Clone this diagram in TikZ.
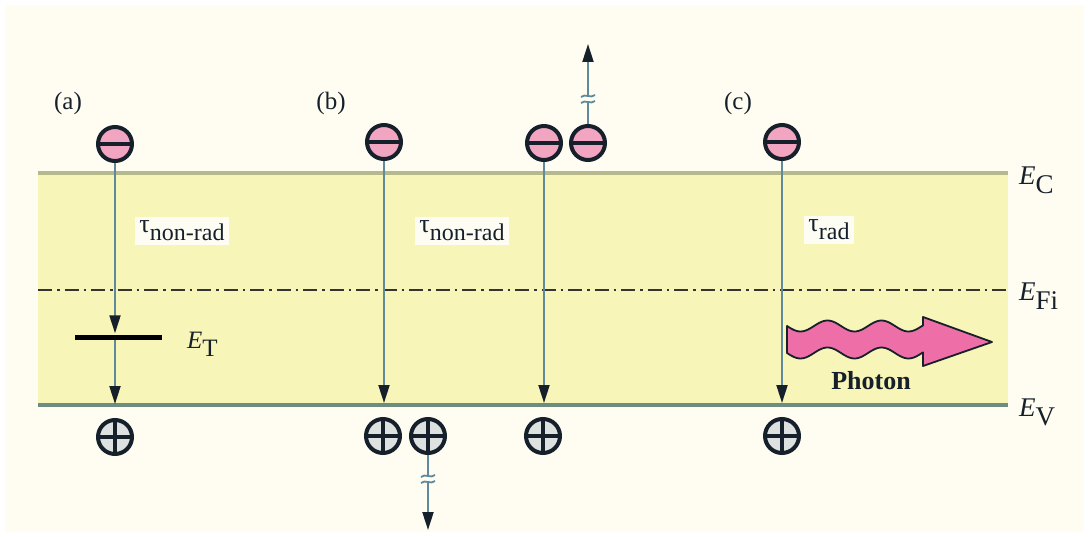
\documentclass[tikz,border=0pt]{standalone}
\usepackage{fontspec}
\setmainfont{Liberation Serif}
\usetikzlibrary{arrows.meta}
\definecolor{paper}{HTML}{FFFDF2}
\definecolor{bandfill}{HTML}{F8F5B8}
\definecolor{ecline}{HTML}{B5B98C}
\definecolor{evline}{HTML}{6F8C80}
\definecolor{transline}{HTML}{5F8A9C}
\definecolor{elecfill}{HTML}{F2A5C0}
\definecolor{holefill}{HTML}{DDE1E0}
\definecolor{photonfill}{HTML}{EE6FA8}
\definecolor{ink}{HTML}{15202A}
\tikzset{
  electron/.style={circle, minimum size=34pt, inner sep=0pt, draw=ink, line width=4pt, fill=elecfill,
    path picture={\draw[ink, line width=3.6pt] (path picture bounding box.west) -- (path picture bounding box.east);}},
  hole/.style={circle, minimum size=34pt, inner sep=0pt, draw=ink, line width=4pt, fill=holefill,
    path picture={\draw[ink, line width=3.2pt] (path picture bounding box.west) -- (path picture bounding box.east)
      (path picture bounding box.north) -- (path picture bounding box.south);}},
  transition/.style={transline, line width=2pt, -{Triangle[length=18pt,width=11pt,color=ink]}},
  taubox/.style={fill=white, fill opacity=0.85, text opacity=1, inner sep=4pt, text=ink},
  panel/.style={text=ink, font=\fontsize{25}{25}\selectfont},
  level/.style={text=ink, anchor=west, inner sep=0pt},
  breakmark/.style={transline, line width=1.8pt},
}
\newcommand{\taulabel}[1]{\fontsize{26}{26}\selectfont τ\raisebox{-8pt}{\fontsize{24}{24}\selectfont #1}}
\newcommand{\energy}[2]{\fontsize{#2}{#2}\selectfont\textit{E}\raisebox{-9pt}{#1}}
\begin{document}
\begin{tikzpicture}[x=1pt, y=-1pt]
  % page and background
  \fill[white] (0,0) rectangle (1089,537);
  \fill[paper] (5,5) rectangle (1084,532);
  \useasboundingbox (0,0) rectangle (1089,537);

  % energy band between the conduction and valence edges
  \fill[bandfill] (38,173) rectangle (1008,405);
  \draw[ecline, line width=4pt] (38,173) -- (1008,173);
  \draw[evline, line width=3.5pt] (38,405) -- (1008,405);
  \draw[black!80, line width=2.2pt, dash pattern=on 14pt off 5pt on 2.5pt off 5pt] (38,290) -- (1008,290);

  % level labels
  \node[level] (EC) at (1019,180) {\energy{C}{27}};
  \node[level] (EFi) at (1019,296) {\energy{Fi}{27}};
  \node[level] (EV) at (1019,412) {\energy{V}{27}};

  % panel labels
  \node[panel] (pa) at (68,103) {(a)};
  \node[panel] (pb) at (331,103) {(b)};
  \node[panel] (pc) at (738,103) {(c)};

  % lifetime labels
  \node[taubox] (ta) at (182,231) {\taulabel{non-rad}};
  \node[taubox] (tb) at (462,231) {\taulabel{non-rad}};
  \node[taubox] (tc) at (829,230) {\taulabel{rad}};

  % trap level
  \node[fill=black, minimum width=87pt, minimum height=5pt, inner sep=0pt] (trap) at (118,337) {};
  \node[level, font=\fontsize{25}{25}\selectfont] (ET) at (187,344) {\textit{E}\raisebox{-8pt}{T}};

  % electrons
  \node[electron] (ea) at (115,144) {};
  \node[electron] (eb1) at (384,142) {};
  \node[electron] (eb2) at (544,143) {};
  \node[electron] (eb3) at (588,143) {};
  \node[electron] (ec) at (782,142) {};

  % holes
  \node[hole] (ha) at (115,437) {};
  \node[hole] (hb1) at (383,436) {};
  \node[hole] (hb2) at (428,436) {};
  \node[hole] (hb3) at (543,436) {};
  \node[hole] (hc) at (782,436) {};

  % free ends of the escaping carriers
  \coordinate (up) at (588,44);
  \coordinate (down) at (428,530);

  % recombination transitions
  \draw[transition, shorten >=1pt] (ea) -- (ea |- trap.north);
  \draw[transition, shorten >=14pt] (ea |- trap.south) -- (ha.north);
  \draw[transition, shorten >=14pt] (eb1) -- (eb1 |- hb1.north);
  \draw[transition, shorten >=14pt] (eb2) -- (eb2 |- hb3.north);
  \draw[transition, shorten >=14pt] (ec) -- (ec |- hc.north);

  % carriers leaving the region
  \draw[transition] (eb3) -- (up);
  \draw[transition] (hb2) -- (down);
  \fill[paper] (580,95) rectangle (596,103);
  \draw[breakmark] (581,97) .. controls (585,93) and (591,99) .. (595,95);
  \draw[breakmark] (581,103) .. controls (585,99) and (591,105) .. (595,101);
  \fill[paper] (420,475) rectangle (436,483);
  \draw[breakmark] (421,477) .. controls (425,473) and (431,479) .. (435,475);
  \draw[breakmark] (421,483) .. controls (425,479) and (431,485) .. (435,481);

  % emitted photon
  \draw[ink, line width=1.8pt, fill=photonfill, line join=round]
    plot[domain=787:923, samples=60, smooth] (\x, {326+5.5*sin((\x-787)/54*360)})
    -- (923,317) -- (992,342) -- (923,366)
    -- plot[domain=923:787, samples=60, smooth] (\x, {353+5.5*sin((\x-787)/54*360)})
    -- cycle;
  \node[text=ink, font=\bfseries\fontsize{26}{26}\selectfont] (photon) at (871,381) {Photon};
\end{tikzpicture}
\end{document}
